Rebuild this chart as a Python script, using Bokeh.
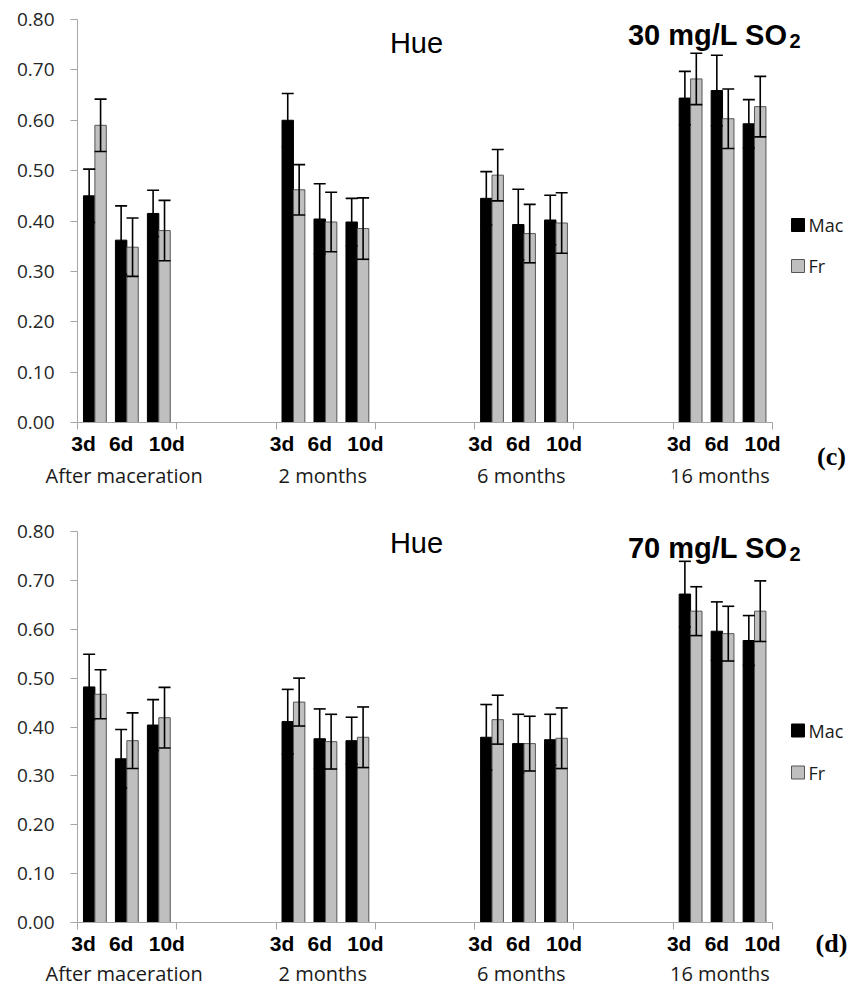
from bokeh.plotting import figure
from bokeh.layouts import column
from bokeh.models import (Range1d, FixedTicker, NumeralTickFormatter, ColumnDataSource,
                          Whisker, TeeHead, LinearAxis)
from bokeh.embed import file_html
from bokeh.resources import INLINE
from bokeh.core.properties import value

# ---------------- data ----------------
periods = ["After maceration", "2 months", "6 months", "16 months"]
days = ["3d", "6d", "10d"]
series = ["Mac", "Fr"]
y_ticks = [0.0, 0.1, 0.2, 0.3, 0.4, 0.5, 0.6, 0.7, 0.8]

# 30 mg/L SO2 (panel c)
mac30 = [0.450, 0.362, 0.415, 0.600, 0.404, 0.398, 0.445, 0.393, 0.402, 0.644, 0.659, 0.593]
mac30_err = [0.053, 0.068, 0.046, 0.053, 0.070, 0.047, 0.053, 0.070, 0.049, 0.053, 0.070, 0.048]
fr30 = [0.590, 0.348, 0.381, 0.462, 0.398, 0.385, 0.491, 0.375, 0.396, 0.682, 0.603, 0.627]
fr30_err = [0.052, 0.058, 0.060, 0.050, 0.059, 0.061, 0.051, 0.058, 0.060, 0.051, 0.059, 0.060]

# 70 mg/L SO2 (panel d)
mac70 = [0.482, 0.335, 0.404, 0.411, 0.376, 0.372, 0.379, 0.366, 0.374, 0.672, 0.596, 0.577]
mac70_err = [0.067, 0.060, 0.052, 0.066, 0.061, 0.048, 0.067, 0.060, 0.052, 0.067, 0.060, 0.051]
fr70 = [0.467, 0.372, 0.419, 0.451, 0.370, 0.379, 0.415, 0.366, 0.377, 0.637, 0.591, 0.637]
fr70_err = [0.050, 0.057, 0.062, 0.049, 0.056, 0.062, 0.050, 0.056, 0.062, 0.050, 0.056, 0.062]

chart_title = "Hue"
panel_c = ("30 mg/L SO", "2", "(c)")
panel_d = ("70 mg/L SO", "2", "(d)")

# ---------------- layout constants ----------------
N_CAT = 2 * len(periods) - 1          # groups separated by empty slots
AXIS_LEFT = 77                         # px of the value axis
AXIS_PX = 695
RIGHT_PX = 852
CAT_PX = AXIS_PX / N_CAT
X_START = -AXIS_LEFT / CAT_PX
X_END = (RIGHT_PX - AXIS_LEFT) / CAT_PX
PAIR_OFF = [0.175, 0.497, 0.819]
DAY_LBL_OFF = [0.06, 0.44, 0.90]
CAT_LBL_OFF = 0.47
BW = 0.115
AX_GRAY = "#a6a6a6"
Y_MAX = 0.8


def px2x(px):
    return px / CAT_PX


def add_text(p, x, y, txt, font, size, style="normal", align="center",
             baseline="middle", color="black"):
    p.text(x=[x], y=[y], text=[txt], text_font=value(font), text_font_size=size,
           text_font_style=style, text_align=align, text_baseline=baseline,
           text_color=color)


def make_chart(mac, mac_err, fr, fr_err, panel, top_b, plot_px, below_px,
               day_standoff, cat_standoff, title_dy, hue_dy, tag_dy, leg_dy):
    ppu = plot_px / Y_MAX
    y_lo = -below_px / ppu
    y_hi = Y_MAX + top_b / ppu
    height = top_b + plot_px + below_px
    p = figure(width=860, height=height, x_range=Range1d(X_START, X_END),
               y_range=Range1d(y_lo, y_hi),
               output_backend="svg", toolbar_location=None,
               min_border_left=0, min_border_right=860 - RIGHT_PX, min_border_top=0,
               min_border_bottom=0)
    p.outline_line_color = None
    p.grid.visible = False
    p.background_fill_color = "white"

    # x positions
    xs_mac, xs_fr = [], []
    for g in range(len(periods)):
        for i in range(len(days)):
            pc = 2 * g + PAIR_OFF[i]
            xs_mac.append(pc - BW / 2)
            xs_fr.append(pc + BW / 2)

    src_mac = ColumnDataSource(dict(x=xs_mac, top=mac,
                                    lo=[v - e for v, e in zip(mac, mac_err)],
                                    hi=[v + e for v, e in zip(mac, mac_err)]))
    src_fr = ColumnDataSource(dict(x=xs_fr, top=fr,
                                   lo=[v - e for v, e in zip(fr, fr_err)],
                                   hi=[v + e for v, e in zip(fr, fr_err)]))

    p.vbar(x="x", top="top", bottom=0, width=BW, source=src_mac,
           fill_color="black", line_color="black", line_width=1)
    p.vbar(x="x", top="top", bottom=0, width=BW, source=src_fr,
           fill_color="#bfbfbf", line_color="#555555", line_width=1)

    for src in (src_mac, src_fr):
        w = Whisker(base="x", lower="lo", upper="hi", source=src, dimension="height",
                    line_color="black", line_width=1.6, level="overlay",
                    upper_head=TeeHead(size=12, line_color="black", line_width=1.6),
                    lower_head=TeeHead(size=12, line_color="black", line_width=1.6))
        p.add_layout(w)

    # y axis drawn at x = 0 inside the frame
    ya = p.yaxis[0]
    ya.fixed_location = 0
    ya.ticker = FixedTicker(ticks=y_ticks)
    ya.bounds = (0, Y_MAX)
    ya.formatter = NumeralTickFormatter(format="0.00")
    ya.major_tick_out = 7
    ya.major_tick_in = 0
    ya.minor_tick_line_color = None
    ya.axis_line_color = AX_GRAY
    ya.major_tick_line_color = AX_GRAY
    ya.major_label_text_font = "Open Sans"
    ya.major_label_text_font_size = "19px"
    ya.major_label_text_color = "#262626"
    ya.major_label_standoff = 16

    # x axis line at y = 0 with ticks at category boundaries
    xc = p.xaxis[0]
    xc.fixed_location = 0
    xc.ticker = FixedTicker(ticks=list(range(N_CAT + 1)))
    xc.bounds = (0, N_CAT)
    xc.major_tick_out = 7
    xc.major_tick_in = 0
    xc.minor_tick_line_color = None
    xc.axis_line_color = AX_GRAY
    xc.major_tick_line_color = AX_GRAY
    xc.major_label_text_font_size = "1px"
    xc.major_label_text_alpha = 0

    # day labels
    day_pos, day_txt = [], {}
    for g in range(len(periods)):
        for i, d in enumerate(days):
            xp = 2 * g + DAY_LBL_OFF[i]
            day_pos.append(xp)
            day_txt[xp] = d
    xa = LinearAxis(fixed_location=0, ticker=FixedTicker(ticks=day_pos, minor_ticks=[]),
                    major_label_overrides=day_txt,
                    axis_line_color=None, major_tick_line_color=None,
                    minor_tick_line_color=None, major_tick_out=0, major_tick_in=0,
                    major_label_standoff=day_standoff,
                    major_label_text_font="Liberation Sans",
                    major_label_text_font_style="bold",
                    major_label_text_font_size="21px", major_label_text_color="black")
    p.add_layout(xa, "below")

    # period names
    cat_pos = [2 * g + CAT_LBL_OFF for g in range(len(periods))]
    xb = LinearAxis(fixed_location=0,
                    ticker=FixedTicker(ticks=cat_pos, minor_ticks=[]),
                    major_label_overrides={c: per for c, per in zip(cat_pos, periods)},
                    axis_line_color=None, major_tick_line_color=None,
                    minor_tick_line_color=None, major_tick_out=0, major_tick_in=0,
                    major_label_standoff=cat_standoff,
                    major_label_text_font="Open Sans", major_label_text_font_size="20px",
                    major_label_text_color="#1a1a1a")
    p.add_layout(xb, "below")

    # titles
    add_text(p, px2x(339), Y_MAX - hue_dy / ppu, chart_title, "Liberation Sans", "29px",
             baseline="alphabetic")
    add_text(p, px2x(710), Y_MAX - title_dy / ppu, panel[0], "Liberation Sans", "29px",
             style="bold", align="right", baseline="alphabetic")
    add_text(p, px2x(712), Y_MAX - (title_dy + 6) / ppu, panel[1], "Liberation Sans",
             "20px", style="bold", align="left", baseline="alphabetic")
    add_text(p, px2x(754), -tag_dy / ppu, panel[2], "Liberation Serif", "26px",
             style="bold")

    # legend, right of the axis
    fills = ["black", "#bfbfbf"]
    lines = ["black", "#555555"]
    for k, name in enumerate(series):
        ly = Y_MAX - leg_dy[k] / ppu
        p.scatter(x=[px2x(720.5)], y=[ly], marker="square", size=13,
                  fill_color=fills[k], line_color=lines[k], line_width=1)
        add_text(p, px2x(731), ly, name, "Open Sans", "18px", align="left",
                 color="#1a1a1a")
    return p


p1 = make_chart(mac30, mac30_err, fr30, fr30_err, panel_c, top_b=19, plot_px=403,
                below_px=78, day_standoff=9, cat_standoff=39, title_dy=15, hue_dy=23,
                tag_dy=34, leg_dy=[205.5, 246.5])
p2 = make_chart(mac70, mac70_err, fr70, fr70_err, panel_d, top_b=31, plot_px=391,
                below_px=64, day_standoff=9, cat_standoff=37, title_dy=16, hue_dy=11,
                tag_dy=21, leg_dy=[199, 241])

layout = column(p1, p2, spacing=0)
open("out.html", "w").write(file_html(layout, INLINE))
